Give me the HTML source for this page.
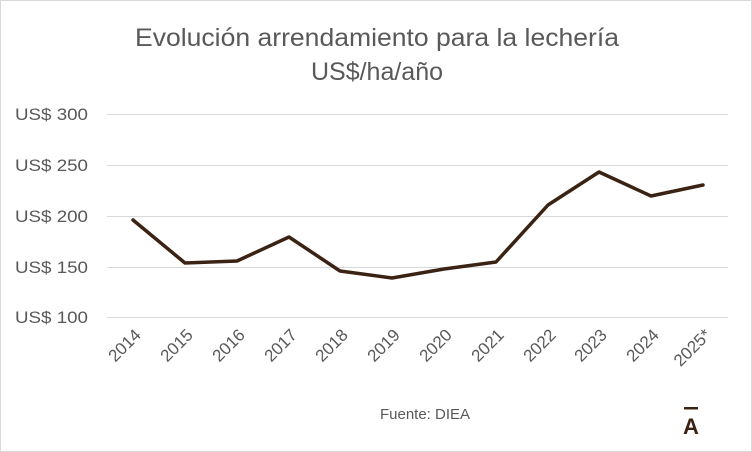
<!DOCTYPE html>
<html><head><meta charset="utf-8"><style>
body{margin:0;width:752px;height:452px;overflow:hidden;background:#fff}
svg{display:block}
text{font-family:"Liberation Sans",sans-serif}
</style></head><body>
<svg width="752" height="452" viewBox="0 0 752 452">
<rect x="0.5" y="0.5" width="751" height="451" fill="#fff" stroke="#d9d9d9"/>
<text x="377" y="46" text-anchor="middle" font-size="25" textLength="484" lengthAdjust="spacingAndGlyphs" fill="#595959">Evolución arrendamiento para la lechería</text>
<text x="377" y="80" text-anchor="middle" font-size="25" fill="#595959">US$/ha/año</text>
<g stroke="#d9d9d9" stroke-width="1">
<line x1="107" x2="728" y1="114.5" y2="114.5"/>
<line x1="107" x2="728" y1="165.5" y2="165.5"/>
<line x1="107" x2="728" y1="216.5" y2="216.5"/>
<line x1="107" x2="728" y1="267.5" y2="267.5"/>
<line x1="107" x2="728" y1="317.5" y2="317.5"/>
</g>
<g font-size="17" fill="#595959">
<text x="15" y="120" textLength="73" lengthAdjust="spacingAndGlyphs">US$ 300</text>
<text x="15" y="171" textLength="73" lengthAdjust="spacingAndGlyphs">US$ 250</text>
<text x="15" y="222" textLength="73" lengthAdjust="spacingAndGlyphs">US$ 200</text>
<text x="15" y="273" textLength="73" lengthAdjust="spacingAndGlyphs">US$ 150</text>
<text x="15" y="323" textLength="73" lengthAdjust="spacingAndGlyphs">US$ 100</text>
</g>
<polyline fill="none" stroke="#3b2314" stroke-width="3.5" stroke-linejoin="round" stroke-linecap="round"
points="133,220 185,263 237,261 289,237 340,271 392,278 444,269 496,262 548,205 599,172 651,196 703,185"/>
<g font-size="17" fill="#595959">
<text transform="translate(142,336) rotate(-45)" text-anchor="end">2014</text>
<text transform="translate(194,336) rotate(-45)" text-anchor="end">2015</text>
<text transform="translate(246,336) rotate(-45)" text-anchor="end">2016</text>
<text transform="translate(298,336) rotate(-45)" text-anchor="end">2017</text>
<text transform="translate(349,336) rotate(-45)" text-anchor="end">2018</text>
<text transform="translate(401,336) rotate(-45)" text-anchor="end">2019</text>
<text transform="translate(453,336) rotate(-45)" text-anchor="end">2020</text>
<text transform="translate(505,336) rotate(-45)" text-anchor="end">2021</text>
<text transform="translate(557,336) rotate(-45)" text-anchor="end">2022</text>
<text transform="translate(608,336) rotate(-45)" text-anchor="end">2023</text>
<text transform="translate(660,336) rotate(-45)" text-anchor="end">2024</text>
<text transform="translate(712,336) rotate(-45)" text-anchor="end">2025*</text>
</g>
<text x="425" y="419" text-anchor="middle" font-size="15" fill="#595959">Fuente: DIEA</text>
<rect x="684" y="407" width="14" height="2.5" fill="#3b2314"/>
<text x="691" y="434" text-anchor="middle" font-size="22" font-weight="bold" fill="#3b2314">A</text>
</svg>
</body></html>
